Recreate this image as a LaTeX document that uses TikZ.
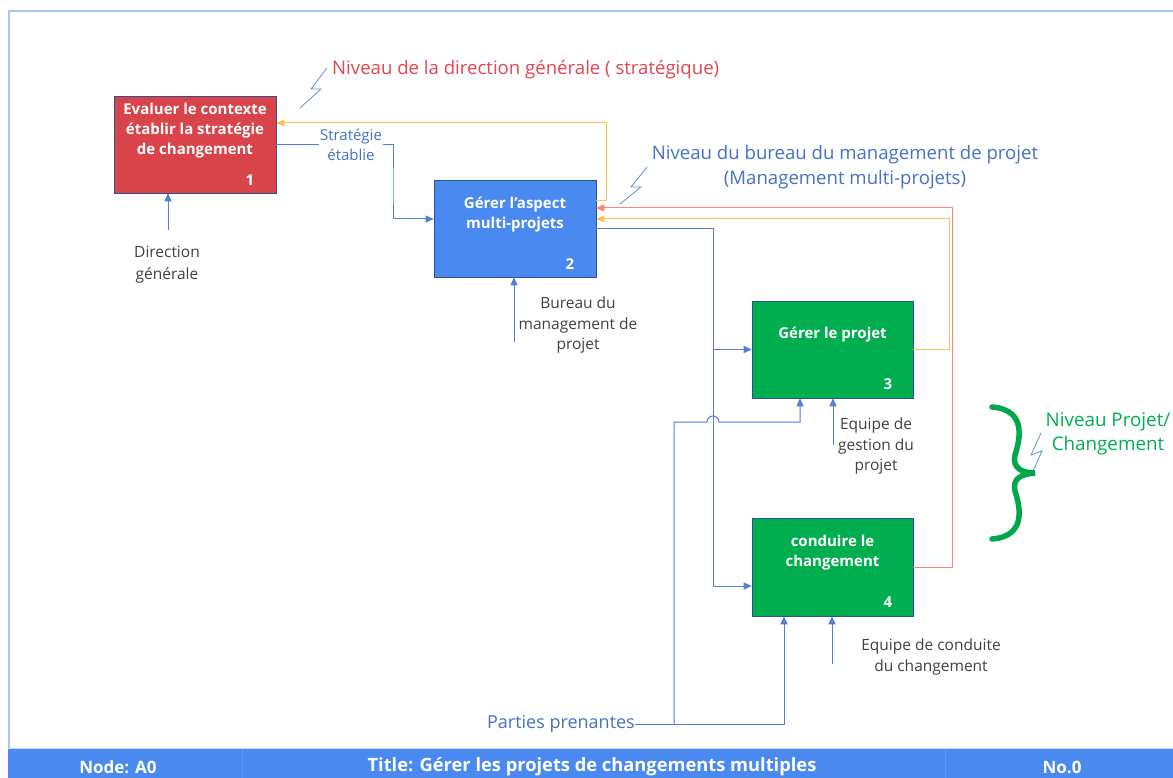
\documentclass[tikz,border=0pt]{standalone}
\usepackage{fontspec}
\setmainfont{Open Sans}
\usetikzlibrary{arrows.meta}
\definecolor{boxred}{HTML}{D9444A}
\definecolor{boxblue}{HTML}{4A8AF0}
\definecolor{boxgreen}{HTML}{00AD4F}
\definecolor{flowblue}{HTML}{4F7FD6}
\definecolor{flowyel}{HTML}{FFC34D}
\definecolor{flowred}{HTML}{FF7F7F}
\definecolor{framecol}{HTML}{A9C4F5}
\definecolor{txtgray}{HTML}{404048}
\definecolor{txtred}{HTML}{E5454F}
\definecolor{txtblue}{HTML}{4472C4}
\definecolor{txtgreen}{HTML}{00B050}
\definecolor{bracegreen}{HTML}{00A84A}
\tikzset{
  procbox/.style={draw=boxblue!60!black, line width=0.6pt, minimum width=162pt, minimum height=97pt, inner sep=0pt},
  boxtxt/.style={text=white, font=\fontsize{15}{20}\selectfont\bfseries, align=center, inner sep=0pt},
  numtxt/.style={text=white, font=\fontsize{15}{16}\selectfont\bfseries, inner sep=0pt},
  lbl/.style={text=txtgray, font=\fontsize{15.5}{20.5}\selectfont, align=center, inner sep=0pt},
  flow/.style={draw=flowblue, line width=1pt},
  arr/.style={-{Triangle[length=8pt,width=7pt]}},
  yel/.style={draw=flowyel, line width=1pt},
  redl/.style={draw=flowred, line width=1pt},
  bolt/.style={draw=txtblue!80, line width=0.8pt},
  bartxt/.style={text=white, font=\fontsize{17}{18}\selectfont\bfseries, inner sep=0pt},
}
\begin{document}
\begin{tikzpicture}[x=1pt,y=-1pt]
\useasboundingbox (0,0) rectangle (1173,778);
% frame
\fill[white] (0,0) rectangle (1173,778);
\draw[framecol, line width=2pt] (9,748) -- (9,11) -- (1173,11);
% bottom bar
\fill[boxblue] (8,748) rectangle (1173,778);
\draw[framecol!70!white, line width=1pt] (8,748.5) -- (1173,748.5);
\draw[boxblue!88!white, line width=0.8pt] (242,749) -- (242,778);
\draw[boxblue!88!white, line width=0.8pt] (945,749) -- (945,778);
\node[bartxt] (bnode) at (118,767) {Node: A0};
\node[bartxt, font=\fontsize{18.3}{18}\selectfont\bfseries] (btitle) at (592,767) {Title: Gérer les projets de changements multiples};
\node[bartxt] (bno) at (1062,767) {No.0};

% boxes
\node[procbox, fill=boxred] (b1) at (195,144.5) {};
\node[procbox, fill=boxblue] (b2) at (515,228.5) {};
\node[procbox, fill=boxgreen, minimum width=161pt] (b3) at (832.5,349.5) {};
\node[procbox, fill=boxgreen, minimum width=161pt, minimum height=98pt] (b4) at (832.5,567) {};
\node[boxtxt] (t1) at (195,131) {Evaluer le contexte\\établir la stratégie\\de changement};
\node[boxtxt] (t2) at (515,214.5) {Gérer l'aspect\\multi-projets};
\node[boxtxt] (t3) at (832.5,335) {Gérer le projet};
\node[boxtxt] (t4) at (832.5,552.5) {conduire le\\changement};
\node[numtxt] (n1) at (250,180) {1};
\node[numtxt] (n2) at (570,264) {2};
\node[numtxt] (n3) at (888,384) {3};
\node[numtxt] (n4) at (888,602) {4};

% feedback lines
\draw[yel, arr] ([yshift=28pt]b2.east) -| (606,123) -- ([yshift=21.5pt]b1.east);
\draw[redl, arr] (b4.east) -| (952,208) -- ([yshift=20.5pt]b2.east);
\draw[yel, arr] (b3.east) -| (949,219) -- ([yshift=9.5pt]b2.east);

% strategy
\draw[flow, arr] (b1.east) -| (393,190) |- ([yshift=9.5pt]b2.west);
\node[lbl, text=txtblue, fill=white, inner sep=1pt, font=\fontsize{15}{20}\selectfont] (strat) at (351,145) {Stratégie\\établie};

% b2 to b3/b4
\coordinate (j1) at (713,349.5);
\draw[flow, arr] (b2.east) -| (713,586) -- ([yshift=-19pt]b4.west);
\draw[flow, arr] (j1) -- (b3.west);

% mechanisms / controls
\coordinate (dgin) at (168,230);
\draw[flow, arr] (dgin) -- (dgin |- b1.south);
\node[lbl, font=\fontsize{15.5}{22}\selectfont] (dg) at (167,265) {Direction\\générale};
\coordinate (bmin) at (514,342);
\draw[flow, arr] (bmin) -- (bmin |- b2.south);
\node[lbl] (bm) at (578,325) {Bureau du\\management de\\projet};
\coordinate (egin) at (833,445);
\draw[flow, arr] (egin) -- (egin |- b3.south);
\node[lbl] (eg) at (876,446) {Equipe de\\gestion du\\projet};
\coordinate (ecin) at (832,664);
\draw[flow, arr] (ecin) -- (ecin |- b4.south);
\node[lbl] (ec) at (931,657) {Equipe de conduite\\du changement};

% parties prenantes
\node[text=txtblue, font=\fontsize{18}{20}\selectfont, anchor=east, inner sep=0pt] (pp) at (635,724) {Parties prenantes};
\coordinate (j2) at (674,724);
\draw[flow, arr] (pp.east) -| ([xshift=-48.5pt]b4.south);
\draw[flow, arr] (j2) -- (674,422) -- (707,422) arc[start angle=180, end angle=0, radius=6pt] -- (800,422) -- ([xshift=-32.5pt]b3.south);

% level labels
\node[text=txtred, font=\fontsize{18.6}{24}\selectfont, anchor=west, inner sep=0pt] (lv1) at (332,70) {Niveau de la direction générale ( stratégique)};
\draw[bolt] (327,68) -- (311,89) -- (321,89) -- (300,108);
\node[text=txtblue, font=\fontsize{18.6}{25}\selectfont, align=center, inner sep=0pt] (lv2) at (845,167.5) {Niveau du bureau du management de projet\\(Management multi-projets)};
\draw[bolt] (647,167) -- (631,187) -- (641,187) -- (620,204);
\node[text=txtgreen, font=\fontsize{18.8}{24}\selectfont, align=center, inner sep=0pt] (lv3) at (1108,434) {Niveau Projet/\\Changement};
\draw[bolt] (1041,433) -- (1031,455) -- (1042,451) -- (1033,471);
% brace
\draw[bracegreen, line width=5.5pt, line cap=round] (992,407) .. controls (1030,410) and (1018,445) .. (1015,455) .. controls (1012,468) and (1022,473) .. (1035,473) .. controls (1022,474) and (1012,478) .. (1015,491) .. controls (1018,501) and (1030,536) .. (992,539);
\end{tikzpicture}
\end{document}
